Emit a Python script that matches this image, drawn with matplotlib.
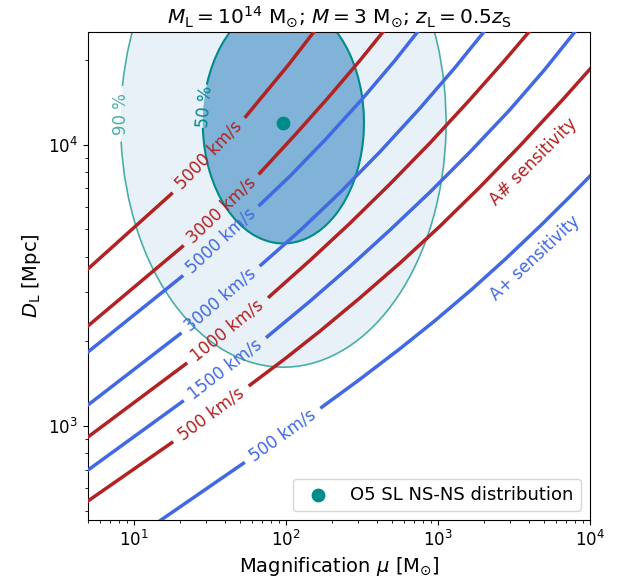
import numpy as np
import matplotlib
matplotlib.use("Agg")
import matplotlib.pyplot as plt
from matplotlib.patches import Ellipse, Arc

plt.rcParams['font.size'] = 12

# === Data ===

# velocity curves: magnification mu and D_L [Mpc]; the inline label sits
# in the gap between point 1 and point 2 of every curve
red_5000_mu = [5.0, 17.67, 54.5, 103.4, 166.1]
red_5000_dl = [3621, 6690, 12610, 19180, 26730]
red_3000_mu = [5.0, 20.87, 67.4, 115.0, 189.4, 307.5, 474.8]
red_3000_dl = [2270, 4346, 7932, 10855, 14700, 19980, 26730]
red_1000_mu = [5.0, 21.98, 77.9, 144.2, 264.3, 484.3, 889.3, 1626, 2762, 4369]
red_1000_dl = [914, 1662, 2885, 3882, 5265, 7261, 10170, 14500, 20040, 26800]
red_500_mu = [5.0, 17.77, 58.2, 98.8, 167.9, 307.5, 563.4, 1032, 1891,
              3465, 6645, 11120]
red_500_dl = [541, 872, 1399, 1735, 2176, 2857, 3799, 5137, 7084,
              9926, 14520, 19840]

blue_5000_mu = [5.0, 20.69, 67.4, 106.6, 181.0, 316.9, 522.4, 781]
blue_5000_dl = [1834, 3399, 6116, 7745, 10410, 14530, 19980, 26300]
blue_3000_mu = [5.0, 20.16, 68.71, 124.0, 227.2, 416.2, 762.6, 1296, 2158]
blue_3000_dl = [1188, 2125, 3741, 4955, 6766, 9450, 13510, 18840, 26480]
blue_1500_mu = [5.0, 20.87, 75.6, 144.2, 264.3, 484.3, 889.3, 1626, 2979,
                5060, 8887]
blue_1500_dl = [697, 1221, 2079, 2779, 3695, 4980, 6800, 9435, 13350,
                18580, 27190]
blue_500_mu = [13.5, 52.56, 172.2, 307.5, 563.4, 957.0, 1668, 2762, 4691,
               7388, 11120]
blue_500_dl = [444, 736.7, 1166, 1467, 1884, 2370, 3060, 3914, 5137,
               6552, 8208]

# O5 strongly lensed NS-NS distribution (ellipses in dex)
centre_mu = 96.3
centre_dl = 12000
ell50_dex = (1.06, 0.86)
ell90_dex = (2.14, 1.74)
# where the contour labels cut the ellipse outlines
gap50_mu = [30.33, 28.55]
gap50_dl = [16360, 11494]
gap90_mu = [8.29, 8.29]
gap90_dl = [16220, 10274]

# free text labels for the sensitivity curves
sens_mu = [4238, 4349]
sens_dl = [8720, 3953]
sens_text = ['A# sensitivity', 'A+ sensitivity']

RED = 'firebrick'
BLUE = 'royalblue'
TEAL = '#008b8b'


def screen_angle(ax, x0, y0, x1, y1):
    p0 = ax.transData.transform((x0, y0))
    p1 = ax.transData.transform((x1, y1))
    ang = np.degrees(np.arctan2(p1[1] - p0[1], p1[0] - p0[0]))
    mid = ax.transData.inverted().transform((p0 + p1) / 2)
    return ang, mid


def draw_curve(ax, mu, dl, text, color, gap=1):
    ax.plot(mu[:gap + 1], dl[:gap + 1], color=color, lw=2.5, zorder=3)
    ax.plot(mu[gap + 1:], dl[gap + 1:], color=color, lw=2.5, zorder=3)
    ang, mid = screen_angle(ax, mu[gap], dl[gap], mu[gap + 1], dl[gap + 1])
    ax.text(mid[0], mid[1], text, color=color, rotation=ang,
            rotation_mode='anchor', ha='center', va='center', zorder=4)


def draw_region(ax, size, gap_mu, gap_dl, face, edge, lw, text, z):
    trans = ax.transLimits + ax.transAxes  # log10 space -> screen
    cx, cy = np.log10(centre_mu), np.log10(centre_dl)
    ax.add_patch(Ellipse((cx, cy), size[0], size[1], transform=trans,
                         facecolor=face, edgecolor='none', zorder=z))
    # outline with a hole for the label
    th = [np.degrees(np.arctan2(np.log10(d) - cy, np.log10(m) - cx))
          for m, d in zip(gap_mu, gap_dl)]
    ax.add_patch(Arc((cx, cy), size[0], size[1], transform=trans,
                     theta1=th[1] % 360, theta2=th[0] % 360,
                     color=edge, lw=lw, zorder=z + 0.1))
    ang, mid = screen_angle(ax, gap_mu[1], gap_dl[1], gap_mu[0], gap_dl[0])
    ax.text(mid[0], mid[1], text, color=edge, rotation=ang,
            rotation_mode='anchor', ha='center', va='center', zorder=4)


fig = plt.figure(figsize=(6.23, 5.84), dpi=100)
ax = fig.add_axes([88 / 623, 64 / 584, 502 / 623, 488 / 584])
ax.set_xscale('log')
ax.set_yscale('log')
ax.set_xlim(5, 1e4)
ax.set_ylim(463, 25200)

draw_region(ax, ell90_dex, gap90_mu, gap90_dl, '#e9f1f8', '#4aaea8', 1.2, '90 %', 1)
draw_region(ax, ell50_dex, gap50_mu, gap50_dl, '#80b3d7', TEAL, 1.5, '50 %', 1.5)

draw_curve(ax, red_5000_mu, red_5000_dl, '5000 km/s', RED)
draw_curve(ax, red_3000_mu, red_3000_dl, '3000 km/s', RED)
draw_curve(ax, red_1000_mu, red_1000_dl, '1000 km/s', RED)
draw_curve(ax, red_500_mu, red_500_dl, '500 km/s', RED)
draw_curve(ax, blue_5000_mu, blue_5000_dl, '5000 km/s', BLUE)
draw_curve(ax, blue_3000_mu, blue_3000_dl, '3000 km/s', BLUE)
draw_curve(ax, blue_1500_mu, blue_1500_dl, '1500 km/s', BLUE)
draw_curve(ax, blue_500_mu, blue_500_dl, '500 km/s', BLUE)

ax.text(sens_mu[0], sens_dl[0], sens_text[0], color=RED, rotation=45,
        rotation_mode='anchor', ha='center', va='center')
ax.text(sens_mu[1], sens_dl[1], sens_text[1], color=BLUE, rotation=43,
        rotation_mode='anchor', ha='center', va='center')

ax.scatter([centre_mu], [centre_dl], s=80, color=TEAL, zorder=5,
           label='O5 SL NS-NS distribution')
ax.legend(loc='lower right', fontsize=13)

ax.set_xlabel(r'Magnification $\mu$ [M$_{\odot}$]', fontsize=14)
ax.set_ylabel(r'$D_\mathrm{L}$ [Mpc]', fontsize=14)
ax.set_title(r'$M_\mathrm{L} = 10^{14}$ M$_{\odot}$; $M = 3$ M$_{\odot}$; '
             r'$z_\mathrm{L} = 0.5z_\mathrm{S}$', fontsize=14.5)

fig.savefig('out.png', dpi=100)
